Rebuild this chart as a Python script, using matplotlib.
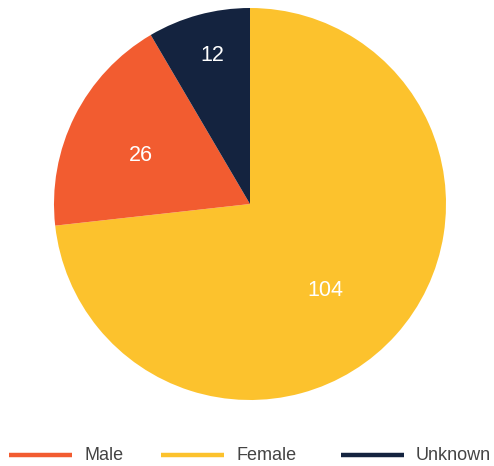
import numpy as np
import matplotlib.pyplot as plt
from matplotlib.lines import Line2D

plt.rcParams['font.family'] = ['Liberation Sans', 'DejaVu Sans']

# counts per sex, drawn clockwise from 12 o'clock
labels = ["Female", "Male", "Unknown"]
counts = [104, 26, 12]
colors = ["#FCC22D", "#F25C30", "#14233F"]
label_radius = [0.577, 0.617, 0.795]
label_turn = [-6.2, 1.6, -1.1]  # degrees off the wedge mid-angle

legend_order = ["Male", "Female", "Unknown"]
legend_x = [9, 161, 341]  # left edge of each legend swatch, px

W, H = 494, 466
fig = plt.figure(figsize=(W / 100, H / 100), dpi=100)
ax = fig.add_axes([54 / W, 66 / H, 392 / W, 392 / H])

wedges, _ = ax.pie(counts, colors=colors, startangle=90, counterclock=False,
                   wedgeprops=dict(linewidth=0))
ax.set_xlim(-1, 1)
ax.set_ylim(-1, 1)
ax.set_aspect("equal")

for w, n, r, t in zip(wedges, counts, label_radius, label_turn):
    mid = np.deg2rad((w.theta1 + w.theta2) / 2 + t)
    ax.text(r * np.cos(mid), r * np.sin(mid), str(n), color="white",
            fontsize=15.5, ha="center", va="center_baseline")

# legend drawn by hand: thick line swatch + label
y_leg = 1 - 455 / H
for name, x0 in zip(legend_order, legend_x):
    c = colors[labels.index(name)]
    fig.add_artist(Line2D([x0 / W, (x0 + 63) / W], [y_leg, y_leg], color=c,
                          linewidth=3.2, solid_capstyle="butt",
                          transform=fig.transFigure))
    fig.text((x0 + 75) / W, y_leg, name, color="#444444", fontsize=13,
             ha="left", va="center")

fig.savefig("out.png", dpi=100)
